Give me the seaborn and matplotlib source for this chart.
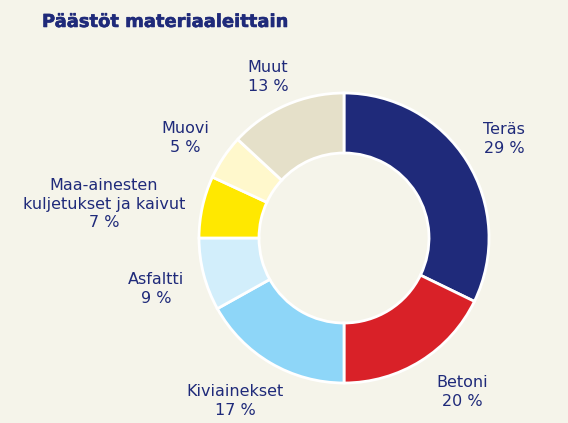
import matplotlib
matplotlib.use("Agg")
import matplotlib.pyplot as plt
import matplotlib.patheffects as pe
import seaborn as sns

categories = ["Teräs", "Betoni", "Kiviainekset", "Asfaltti",
              "Maa-ainesten\nkuljetukset ja kaivut", "Muovi", "Muut"]
shares = [32.2, 17.8, 16.9, 8.1, 6.9, 5.0, 13.1]
label_pct = [29, 20, 17, 9, 7, 5, 13]
colors = ["#1f2a7a", "#d92128", "#8ed6f8", "#d2eefb", "#ffe800", "#fff8cc", "#e5e0c9"]

# Layout (pixel positions of label centres)
label_pos = [(504, 139), (462, 392), (235, 401), (156, 289),
             (104, 204), (185, 138), (268, 77)]

BG = "#f5f4ea"
NAVY = "#1f2a7a"

sns.set_theme(style="white")
plt.rcParams['font.family'] = ['DejaVu Sans']

W, H = 568, 423
fig = plt.figure(figsize=(W / 100, H / 100), dpi=100, facecolor=BG)
ax = fig.add_axes([0, 0, 1, 1])
ax.set_facecolor(BG)

cx, cy, R, r = 344, 238, 145, 85
ax.pie(shares, colors=colors, startangle=90, counterclock=False,
       center=(cx, H - cy), radius=R, frame=False,
       wedgeprops=dict(width=R - r, edgecolor="white", linewidth=2))

ax.set_xlim(0, W)
ax.set_ylim(0, H)
ax.set_aspect("equal")
ax.axis("off")

for cat, pct, (x, y) in zip(categories, label_pct, label_pos):
    ax.text(x, H - y, f"{cat}\n{pct} %", ha="center", va="center",
            fontsize=11.5, color=NAVY, linespacing=1.3)

fig.text(42 / W, 1 - 22 / H, "Päästöt materiaaleittain", ha="left", va="center",
         fontsize=12.9, fontweight="bold", color=NAVY,
         path_effects=[pe.withStroke(linewidth=0.4, foreground=NAVY)])

fig.savefig("out.png", dpi=100, facecolor=BG)
